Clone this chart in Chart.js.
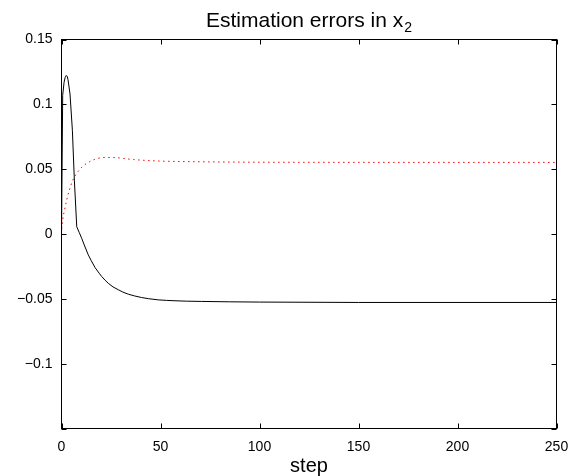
<!DOCTYPE html>
<html>
<head>
<meta charset="utf-8">
<script src="https://cdn.jsdelivr.net/npm/chart.js@4/dist/chart.umd.min.js"></script>
<style>
  html, body { margin: 0; padding: 0; background: #fff; }
  canvas { display: block; }
</style>
</head>
<body>
<canvas id="errChart" width="585" height="476"></canvas>
<script>
// Values
const stepsBlack = [0, 0.6, 1.3, 1.8, 2.4, 2.9, 3.3, 4.3, 5.5, 6.5, 7.7, 9, 10.2, 11.5, 13.5, 15, 17, 19, 20.3, 22, 23.6, 26, 28.7, 31, 33.7, 37, 40.5, 44, 48.9, 53, 57.3, 63, 70.8, 85, 100, 150, 250];
const errBlack = [0, 0.107, 0.117, 0.1205, 0.1223, 0.1215, 0.119, 0.108, 0.080, 0.0415, 0.0056, 0.0010, -0.0033, -0.0085, -0.016, -0.0205, -0.026, -0.0302, -0.0328, -0.0356, -0.038, -0.0408, -0.043, -0.0448, -0.0464, -0.0478, -0.049, -0.0499, -0.0508, -0.0512, -0.0515, -0.0518, -0.052, -0.0523, -0.0525, -0.0528, -0.0528];

const stepsRed = [0, 0.1, 0.6, 1.6, 2.6, 4, 5.7, 7.8, 10.6, 14, 16.5, 21.5, 26.5, 31.5, 36.5, 47, 70, 120, 250];
const errRed = [0, 0.0036, 0.011, 0.019, 0.026, 0.034, 0.0415, 0.047, 0.052, 0.0556, 0.0574, 0.059, 0.059, 0.0582, 0.0574, 0.0564, 0.0557, 0.0553, 0.0552];

const xTicks = [0, 50, 100, 150, 200, 250];
const yTicks = [-0.15, -0.1, -0.05, 0, 0.05, 0.1, 0.15];

const fontFamily = "'Liberation Sans', Arial, Helvetica, sans-serif";

function toPoints(xs, ys) {
    return xs.map((x, i) => ({ x: x, y: ys[i] }));
}

// Title with subscript, and the box with inward ticks (MATLAB look)
const matlabLook = {
    id: 'matlabLook',
    afterDraw(chart) {
        const ctx = chart.ctx;
        const a = chart.chartArea;
        const xs = chart.scales.x, ys = chart.scales.y;
        ctx.save();
        ctx.strokeStyle = '#000';
        ctx.lineWidth = 1;
        ctx.strokeRect(a.left, a.top, a.right - a.left, a.bottom - a.top);
        const len = 5;
        ctx.beginPath();
        xTicks.forEach(v => {
            const px = Math.round(xs.getPixelForValue(v)) + 0.5;
            ctx.moveTo(px, a.bottom); ctx.lineTo(px, a.bottom - len);
            ctx.moveTo(px, a.top); ctx.lineTo(px, a.top + len);
        });
        yTicks.forEach(v => {
            const py = Math.round(ys.getPixelForValue(v)) + 0.5;
            ctx.moveTo(a.left, py); ctx.lineTo(a.left + len, py);
            ctx.moveTo(a.right, py); ctx.lineTo(a.right - len, py);
        });
        ctx.stroke();

        // title
        const main = 'Estimation errors in x';
        const sub = '2';
        ctx.fillStyle = '#000';
        ctx.textBaseline = 'alphabetic';
        ctx.textAlign = 'left';
        ctx.font = '21px ' + fontFamily;
        const wMain = ctx.measureText(main).width;
        ctx.font = '14px ' + fontFamily;
        const wSub = ctx.measureText(sub).width;
        const cx = (a.left + a.right) / 2;
        const x0 = cx - (wMain + wSub + 1) / 2;
        ctx.font = '21px ' + fontFamily;
        ctx.fillText(main, x0, 26.5);
        ctx.font = '14px ' + fontFamily;
        ctx.fillText(sub, x0 + wMain + 1, 32);
        ctx.restore();
    }
};

new Chart(document.getElementById('errChart'), {
    type: 'line',
    data: {
        datasets: [{
            data: toPoints(stepsBlack, errBlack),
            borderColor: '#000',
            borderWidth: 1,
            pointRadius: 0,
            tension: 0,
            fill: false
        }, {
            data: toPoints(stepsRed, errRed),
            borderColor: 'rgb(255,0,0)',
            borderWidth: 1,
            borderDash: [1.5, 3.5],
            pointRadius: 0,
            cubicInterpolationMode: 'monotone',
            fill: false
        }]
    },
    options: {
        responsive: false,
        animation: false,
        layout: { padding: { left: 0, right: 28.5, top: 39.5, bottom: 0 } },
        plugins: {
            legend: { display: false },
            tooltip: { enabled: false },
            title: { display: false }
        },
        scales: {
            x: {
                type: 'linear',
                min: 0,
                max: 250,
                afterBuildTicks: s => { s.ticks = xTicks.map(v => ({ value: v })); },
                ticks: {
                    color: '#000',
                    padding: 10,
                    maxRotation: 0,
                    font: { family: fontFamily, size: 14 }
                },
                grid: { display: false, drawTicks: false },
                border: { display: false },
                title: {
                    display: true,
                    text: 'step',
                    color: '#000',
                    padding: 0,
                    font: { family: fontFamily, size: 20, lineHeight: 1 }
                },
                afterFit: s => { s.height = 47.5; }
            },
            y: {
                min: -0.15,
                max: 0.15,
                afterBuildTicks: s => { s.ticks = yTicks.map(v => ({ value: v })); },
                ticks: {
                    color: '#000',
                    padding: 9,
                    font: { family: fontFamily, size: 14 },
                    callback: v => {
                        const r = Math.round(v * 100) / 100;
                        if (r === -0.15) return '';
                        return String(r).replace('-', '\u2212');
                    }
                },
                grid: { display: false, drawTicks: false },
                border: { display: false },
                afterFit: s => { s.width = 61.5; }
            }
        }
    },
    plugins: [matlabLook]
});
</script>
</body>
</html>
